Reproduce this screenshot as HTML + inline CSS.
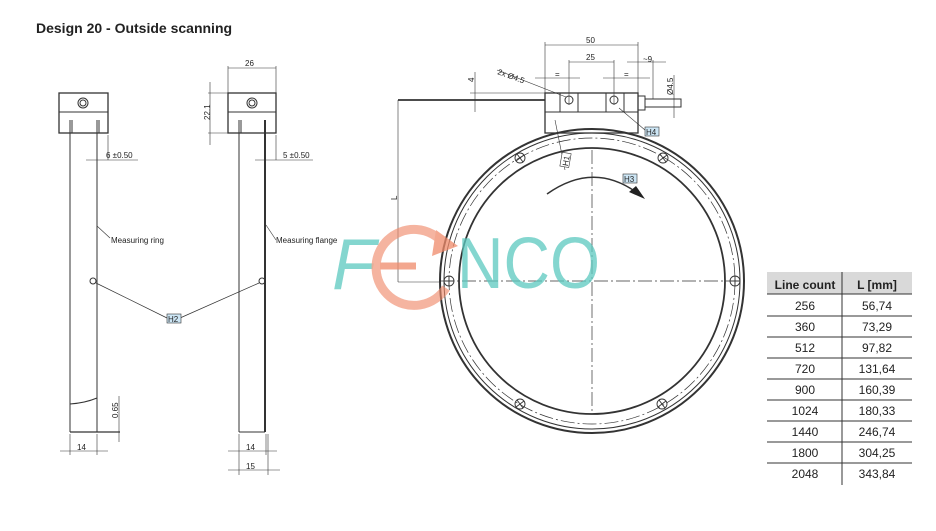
<!DOCTYPE html>
<html><head><meta charset="utf-8"><style>
body{margin:0;background:#fff;}
svg{display:block;}
text{font-family:"Liberation Sans",sans-serif;fill:#222;}
</style></head><body>
<svg width="936" height="531" viewBox="0 0 936 531" xmlns="http://www.w3.org/2000/svg">
<text x="36" y="33" font-size="14" font-weight="bold" fill="#111">Design 20 - Outside scanning</text>

<g stroke="#333" fill="none" stroke-width="1">
<rect x="59" y="93" width="49" height="40" stroke-width="1.3"/>
<line x1="59" y1="112" x2="108" y2="112"/>
<circle cx="83" cy="103" r="5"/><circle cx="83" cy="103" r="3"/>
<line x1="70" y1="120" x2="70" y2="432"/><line x1="72" y1="120" x2="72" y2="133"/>
<line x1="97" y1="120" x2="97" y2="432"/><line x1="99" y1="120" x2="99" y2="133"/>
<line x1="70" y1="432" x2="120" y2="432" stroke-width="1.3"/>
<path d="M70,404 Q85,403 97,398"/>
<line x1="108" y1="135" x2="108" y2="160" stroke-width="0.6"/>
<line x1="86" y1="160" x2="138" y2="160" stroke-width="0.6"/>
<line x1="97" y1="226" x2="110" y2="238" stroke-width="0.6"/>
<circle cx="93" cy="281" r="3"/>
<line x1="96" y1="283" x2="167" y2="318" stroke-width="0.7"/>
<line x1="119" y1="396" x2="119" y2="442" stroke-width="0.6"/>
<line x1="70" y1="434" x2="70" y2="455" stroke-width="0.6"/><line x1="97" y1="434" x2="97" y2="455" stroke-width="0.6"/>
<line x1="60" y1="451" x2="108" y2="451" stroke-width="0.6"/>

<rect x="228" y="93" width="48" height="40" stroke-width="1.3"/>
<line x1="228" y1="112" x2="276" y2="112"/>
<circle cx="252" cy="103" r="5"/><circle cx="252" cy="103" r="3"/>
<line x1="239" y1="120" x2="239" y2="432"/><line x1="241" y1="120" x2="241" y2="133"/>
<line x1="265" y1="120" x2="265" y2="432" stroke-width="2"/>
<line x1="239" y1="432" x2="265" y2="432"/>
<line x1="228" y1="68" x2="276" y2="68" stroke-width="0.6"/>
<line x1="228" y1="66" x2="228" y2="93" stroke-width="0.6"/><line x1="276" y1="66" x2="276" y2="93" stroke-width="0.6"/>
<line x1="208" y1="93" x2="228" y2="93" stroke-width="0.6"/><line x1="208" y1="133" x2="228" y2="133" stroke-width="0.6"/>
<line x1="210" y1="82" x2="210" y2="145" stroke-width="0.6"/>
<line x1="276" y1="135" x2="276" y2="160" stroke-width="0.6"/>
<line x1="255" y1="160" x2="313" y2="160" stroke-width="0.6"/>
<line x1="266" y1="225" x2="276" y2="240" stroke-width="0.6"/>
<circle cx="262" cy="281" r="3"/>
<line x1="259" y1="283" x2="180" y2="318" stroke-width="0.7"/>
<line x1="239" y1="434" x2="239" y2="475" stroke-width="0.6"/><line x1="266" y1="434" x2="266" y2="455" stroke-width="0.6"/><line x1="268" y1="434" x2="268" y2="475" stroke-width="0.6"/>
<line x1="228" y1="451" x2="277" y2="451" stroke-width="0.6"/>
<line x1="228" y1="470" x2="280" y2="470" stroke-width="0.6"/>

<rect x="545" y="93" width="93" height="40" stroke-width="1.3"/>
<line x1="545" y1="112" x2="638" y2="112"/>
<line x1="560" y1="93" x2="560" y2="112"/><line x1="578" y1="93" x2="578" y2="112"/>
<line x1="606" y1="93" x2="606" y2="112"/><line x1="624" y1="93" x2="624" y2="112"/>
<circle cx="569" cy="100" r="4"/><circle cx="614" cy="100" r="4"/>
<rect x="638" y="96" width="7" height="14"/>
<rect x="645" y="99" width="36" height="8"/>
<line x1="398" y1="100" x2="545" y2="100" stroke-width="1.8"/>
<line x1="470" y1="93" x2="545" y2="93" stroke-width="0.6"/>
<line x1="475" y1="72" x2="475" y2="112" stroke-width="0.6"/>
<line x1="398" y1="100" x2="398" y2="282" stroke-width="0.6"/>
<line x1="398" y1="282" x2="440" y2="282" stroke-width="0.6"/>
<line x1="545" y1="42" x2="545" y2="93" stroke-width="0.6"/><line x1="638" y1="42" x2="638" y2="93" stroke-width="0.6"/>
<line x1="545" y1="45" x2="638" y2="45" stroke-width="0.6"/>
<line x1="569" y1="60" x2="569" y2="105" stroke-width="0.6"/><line x1="614" y1="60" x2="614" y2="105" stroke-width="0.6"/>
<line x1="569" y1="62" x2="614" y2="62" stroke-width="0.6"/>
<line x1="535" y1="78" x2="580" y2="78" stroke-width="0.6"/><line x1="603" y1="78" x2="650" y2="78" stroke-width="0.6"/>
<line x1="627" y1="62" x2="666" y2="62" stroke-width="0.6"/><line x1="653" y1="60" x2="653" y2="99" stroke-width="0.6"/>
<line x1="674" y1="75" x2="674" y2="118" stroke-width="0.6"/>
<line x1="497" y1="70" x2="566" y2="97" stroke-width="0.6"/>
<line x1="619" y1="108" x2="645" y2="130" stroke-width="0.6"/>
<line x1="555" y1="120" x2="565" y2="170" stroke-width="0.6"/>

<circle cx="592" cy="281" r="152" stroke-width="2"/>
<circle cx="592" cy="281" r="148" stroke-width="1"/>
<circle cx="592" cy="281" r="143" stroke-width="0.7" stroke-dasharray="14,3,2,3"/>
<circle cx="592" cy="281" r="133" stroke-width="1.8"/>
<line x1="592" y1="150" x2="592" y2="412" stroke-width="0.7" stroke-dasharray="14,3,2,3"/>
<line x1="440" y1="281" x2="745" y2="281" stroke-width="0.7" stroke-dasharray="14,3,2,3"/>
<path d="M547,194 Q595,160 640,195" stroke-width="1.5"/>
</g>
<path d="M645,199 L629,192 L636,186z" fill="#222"/>
<g stroke="#333" fill="none" stroke-width="0.9">
<g transform="translate(449,281)"><circle r="5"/><line x1="-5" y1="0" x2="5" y2="0"/><line x1="0" y1="-5" x2="0" y2="5"/></g>
<g transform="translate(735,281)"><circle r="5"/><line x1="-5" y1="0" x2="5" y2="0"/><line x1="0" y1="-5" x2="0" y2="5"/></g>
<g transform="translate(520,158)"><circle r="5"/><line x1="-4" y1="3" x2="4" y2="-3"/><line x1="-3" y1="-4" x2="3" y2="4"/></g>
<g transform="translate(663,158)"><circle r="5"/><line x1="-4" y1="3" x2="4" y2="-3"/><line x1="-3" y1="-4" x2="3" y2="4"/></g>
<g transform="translate(520,404)"><circle r="5"/><line x1="-4" y1="3" x2="4" y2="-3"/><line x1="-3" y1="-4" x2="3" y2="4"/></g>
<g transform="translate(662,404)"><circle r="5"/><line x1="-4" y1="3" x2="4" y2="-3"/><line x1="-3" y1="-4" x2="3" y2="4"/></g>
</g>

<g opacity="0.75">
<text x="332" y="289" font-size="72" font-style="italic" style="fill:#5cc9c0">F</text>
<path d="M444,244 A38,38 0 1 0 446,288" stroke="#f08a6a" stroke-width="9" fill="none" opacity="0.85"/>
<line x1="380" y1="266" x2="416" y2="266" stroke="#f08a6a" stroke-width="7"/>
<path d="M436,230 L458,246 L432,256z" fill="#f08a6a"/>
<text x="457" y="288" font-size="72" textLength="143" lengthAdjust="spacingAndGlyphs" style="fill:#5cc9c0">NCO</text>
</g>

<g font-size="8">
<text x="106" y="158">6 ±0.50</text>
<text x="283" y="158">5 ±0.50</text>
<text x="111" y="243">Measuring ring</text>
<text x="276" y="243">Measuring flange</text>
<text x="245" y="66">26</text>
<text x="77" y="450">14</text>
<text x="246" y="450">14</text>
<text x="246" y="469">15</text>
<text x="586" y="43">50</text>
<text x="586" y="60">25</text>
<text x="555" y="77">=</text><text x="624" y="77">=</text>
<text x="643" y="62">~9</text>
<text x="497" y="74" transform="rotate(20 497 74)">2x Ø4.5</text>
<text transform="translate(210,120) rotate(-90)">22.1</text>
<text transform="translate(118,418) rotate(-90)">0.65</text>
<text transform="translate(474,82) rotate(-90)">4</text>
<text transform="translate(673,95) rotate(-90)">Ø4.5</text>
<text transform="translate(397,200) rotate(-90)">L</text>
</g>
<g font-size="8">
<rect x="167" y="314" width="14" height="9" fill="#cde6f5" stroke="#333" stroke-width="0.6"/><text x="168" y="322">H2</text>
<rect x="645" y="127" width="14" height="9" fill="#cde6f5" stroke="#333" stroke-width="0.6"/><text x="646" y="135">H4</text>
<rect x="623" y="174" width="14" height="9" fill="#cde6f5" stroke="#333" stroke-width="0.6"/><text x="624" y="182">H3</text>
<g transform="translate(566,160) rotate(-80)"><rect x="-7" y="-5" width="14" height="9" fill="#fff" stroke="#333" stroke-width="0.6"/><text x="-6" y="3">H1</text></g>
</g>

<rect x="767" y="272" width="145" height="22" fill="#d9d9d9"/>
<g stroke="#333" stroke-width="1">
<line x1="842" y1="272" x2="842" y2="485"/>
<line x1="767" y1="294" x2="912" y2="294"/>
<line x1="767" y1="316" x2="912" y2="316"/>
<line x1="767" y1="337" x2="912" y2="337"/>
<line x1="767" y1="358" x2="912" y2="358"/>
<line x1="767" y1="379" x2="912" y2="379"/>
<line x1="767" y1="400" x2="912" y2="400"/>
<line x1="767" y1="421" x2="912" y2="421"/>
<line x1="767" y1="442" x2="912" y2="442"/>
<line x1="767" y1="463" x2="912" y2="463"/>
</g>
<g font-size="12" text-anchor="middle">
<text x="805" y="289" font-weight="bold" fill="#111">Line count</text><text x="877" y="289" font-weight="bold" fill="#111">L [mm]</text>
<text x="805" y="310">256</text><text x="877" y="310">56,74</text>
<text x="805" y="331">360</text><text x="877" y="331">73,29</text>
<text x="805" y="352">512</text><text x="877" y="352">97,82</text>
<text x="805" y="373">720</text><text x="877" y="373">131,64</text>
<text x="805" y="394">900</text><text x="877" y="394">160,39</text>
<text x="805" y="415">1024</text><text x="877" y="415">180,33</text>
<text x="805" y="436">1440</text><text x="877" y="436">246,74</text>
<text x="805" y="457">1800</text><text x="877" y="457">304,25</text>
<text x="805" y="478">2048</text><text x="877" y="478">343,84</text>
</g>
</svg>
</body></html>
